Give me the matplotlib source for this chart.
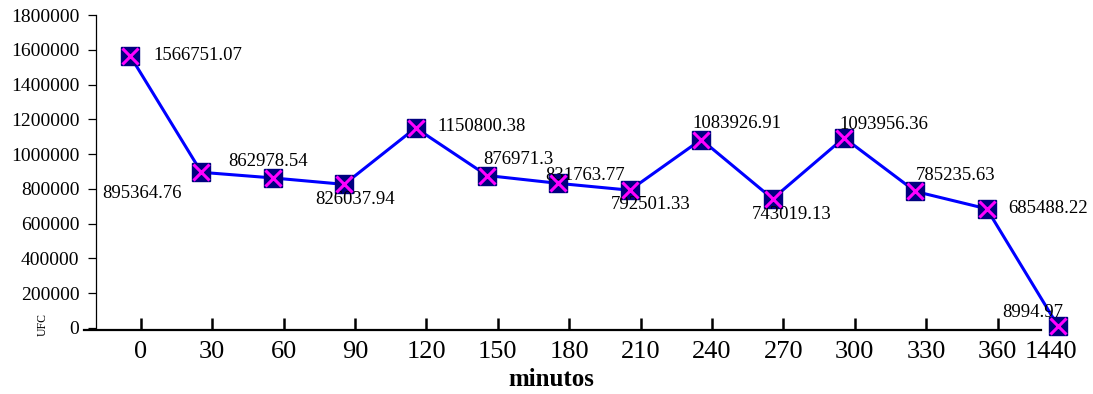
import matplotlib
matplotlib.use("Agg")

import numpy as np
import matplotlib.pyplot as plt
from matplotlib.ticker import FuncFormatter

# data
minutes = ["0", "30", "60", "90", "120", "150", "180", "210", "240", "270",
           "300", "330", "360", "1440"]
ufc = [1566751.07, 895364.76, 862978.54, 826037.94, 1150800.38, 876971.3,
       831763.77, 792501.33, 1083926.91, 743019.13, 1093956.36, 785235.63,
       685488.22, 8994.97]
point_labels = ["1566751.07", "895364.76", "862978.54", "826037.94",
                "1150800.38", "876971.3", "831763.77", "792501.33",
                "1083926.91", "743019.13", "1093956.36", "785235.63",
                "685488.22", "8994.97"]

# label placement (pixels, relative to marker)
label_offsets = [(68, 0), (-59, -21), (-5, 16), (11, -15), (66, 1), (31, 16),
                 (27, 8), (21, -14), (36, 16), (19, -16), (40, 13), (40, 16),
                 (61, 0), (-25, 14)]

W, H = 1093, 394
SERIF = "Liberation Serif"
plt.rcParams["font.family"] = SERIF

fig = plt.figure(figsize=(W / 100, H / 100), dpi=100)

x = np.arange(len(minutes))
xlim = (-0.476, 13.375)

ax = fig.add_axes([96 / W, (H - 328) / H, (1085 - 96) / W, 313 / H])
ax.plot(x, ufc, color="#0000ff", lw=2.2, zorder=2, clip_on=False)
ax.plot(x, ufc, ls="none", marker="s", ms=13, mfc="#000080", mec="#000080",
        zorder=3, clip_on=False)
ax.plot(x, ufc, ls="none", marker="x", ms=11, mew=2.2, color="#ff00ff",
        zorder=4, clip_on=False)

for xi, yi, txt, off in zip(x, ufc, point_labels, label_offsets):
    ax.annotate(txt, (xi, yi), xytext=off, textcoords="offset pixels",
                ha="center", va="center", fontsize=13.5, annotation_clip=False)

ax.set_xlim(*xlim)
ax.set_ylim(0, 1800000)
ax.set_yticks(np.arange(0, 1800001, 200000))
ax.yaxis.set_major_formatter(FuncFormatter(lambda v, p: f"{v:.0f}"))
ax.set_xticks([])
for s in ["top", "right", "bottom"]:
    ax.spines[s].set_visible(False)
ax.spines["left"].set_linewidth(0.9)
ax.tick_params(axis="y", direction="out", length=6, width=0.9, pad=6,
               labelsize=14)
ax.patch.set_visible(False)

# separate category axis below the plot (last category has no tick mark)
ax2 = fig.add_axes([96 / W, (H - 330) / H, (1085 - 96) / W, 1e-4])
ax2.set_xlim(*xlim)
ax2.set_yticks([])
for s in ["top", "right", "left"]:
    ax2.spines[s].set_visible(False)
ax2.spines["bottom"].set_linewidth(1.6)
ax2.spines["bottom"].set_bounds(-0.644, 12.76)
tick_pos = np.append(x[:-1] + 0.15, 12.9)
ax2.set_xticks(tick_pos, minutes)
ax2.tick_params(axis="x", direction="in", length=9, width=1.8, pad=8,
                labelsize=19)
ax2.xaxis.get_major_ticks()[-1].tick1line.set_visible(False)
ax2.patch.set_visible(False)

fig.text(551 / W, 1 - 380 / H, "minutos", ha="center", va="center",
         fontsize=18, fontweight="bold")
fig.text(43 / W, 1 - 325 / H, "UFC", ha="center", va="center",
         fontsize=8.5, rotation=90)

fig.savefig("out.png", dpi=100)
